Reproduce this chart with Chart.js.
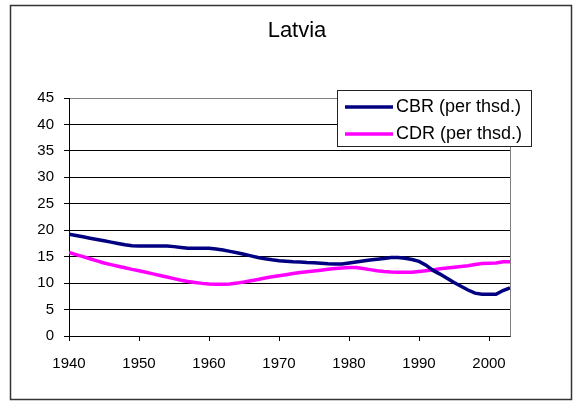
<!DOCTYPE html>
<html>
<head>
<meta charset="utf-8">
<script src="https://cdn.jsdelivr.net/npm/chart.js@4/dist/chart.umd.min.js"></script>
<style>
  html, body { margin: 0; padding: 0; background: #fff; }
  #c { display: block; }
</style>
</head>
<body>
<canvas id="c" width="582" height="401"></canvas>
<script>
const years = [];
for (let y = 1940; y <= 2003; y++) years.push(y);

const cbr = [
  19.25, 19.0, 18.75, 18.5, 18.25, 18.0, 17.75, 17.5, 17.25, 17.05,
  17.0, 17.0, 17.0, 17.0, 17.0, 16.9, 16.75, 16.6, 16.6, 16.6,
  16.6, 16.45, 16.25, 16.0, 15.75, 15.45, 15.15, 14.85, 14.6, 14.4,
  14.25, 14.15, 14.05, 14.0, 13.9, 13.85, 13.75, 13.65, 13.6, 13.6,
  13.8, 14.0, 14.2, 14.35, 14.5, 14.65, 14.85, 14.85, 14.7, 14.45,
  14.1, 13.4, 12.4, 11.7, 10.9, 10.1, 9.4, 8.7, 8.1, 7.9,
  7.9, 7.9, 8.6, 9.1
];
const cdr = [
  15.8, 15.4, 15.0, 14.6, 14.2, 13.8, 13.5, 13.2, 12.9, 12.6,
  12.35, 12.05, 11.75, 11.45, 11.15, 10.85, 10.55, 10.3, 10.1, 9.95,
  9.85, 9.8, 9.8, 9.85, 10.0, 10.2, 10.45, 10.7, 10.95, 11.2,
  11.4, 11.6, 11.8, 12.0, 12.15, 12.3, 12.45, 12.6, 12.75, 12.85,
  12.95, 12.95, 12.75, 12.55, 12.35, 12.2, 12.1, 12.05, 12.05, 12.05,
  12.2, 12.35, 12.5, 12.7, 12.85, 13.0, 13.15, 13.3, 13.5, 13.7,
  13.75, 13.8, 14.05, 14.05
];
const xTicks = [1940, 1950, 1960, 1970, 1980, 1990, 2000];
const yTicks = [0, 5, 10, 15, 20, 25, 30, 35, 40, 45];
const seriesLabels = ['CBR (per thsd.)', 'CDR (per thsd.)'];
const seriesColors = ['#000080', '#FF00FF'];
const titleText = 'Latvia';

const FONT = "'Liberation Sans', Arial, sans-serif";

const decor = {
  id: 'decor',
  beforeDatasetsDraw(chart) {
    const ctx = chart.ctx, a = chart.chartArea;
    ctx.save();
    ctx.strokeStyle = '#808080';
    ctx.lineWidth = 1;
    ctx.beginPath();
    const rx = Math.round(a.right) + 0.5;
    ctx.moveTo(rx, Math.round(a.top) + 0.5);
    ctx.lineTo(rx, Math.round(a.bottom) + 0.5);
    ctx.stroke();
    ctx.restore();
  },
  afterDraw(chart) {
    const ctx = chart.ctx;
    ctx.save();
    // outer border
    ctx.strokeStyle = '#333';
    ctx.lineWidth = 1.5;
    ctx.strokeRect(10.5, 5.5, 561, 394);
    // title
    ctx.fillStyle = '#000';
    ctx.font = '22px ' + FONT;
    ctx.textAlign = 'center';
    ctx.textBaseline = 'alphabetic';
    ctx.fillText(titleText, 297, 37);
    // legend
    ctx.fillStyle = '#fff';
    ctx.fillRect(337.5, 90.5, 194, 56);
    ctx.strokeStyle = '#222';
    ctx.lineWidth = 1;
    ctx.strokeRect(337.5, 90.5, 194, 56);
    const rows = [107, 134];
    chart.data.datasets.forEach((ds, i) => {
      ctx.strokeStyle = ds.borderColor;
      ctx.lineWidth = 3.5;
      ctx.beginPath();
      ctx.moveTo(345, rows[i]);
      ctx.lineTo(393, rows[i]);
      ctx.stroke();
      ctx.fillStyle = '#000';
      ctx.font = '18px ' + FONT;
      ctx.textAlign = 'left';
      ctx.textBaseline = 'middle';
      ctx.fillText(ds.label, 396, rows[i] + 0.5);
    });
    ctx.restore();
  }
};

new Chart(document.getElementById('c'), {
  type: 'line',
  data: {
    datasets: [
      { label: seriesLabels[0], data: years.map((y, i) => ({ x: y, y: cbr[i] })),
        borderColor: seriesColors[0], borderWidth: 3.5, pointRadius: 0, tension: 0, fill: false },
      { label: seriesLabels[1], data: years.map((y, i) => ({ x: y, y: cdr[i] })),
        borderColor: seriesColors[1], borderWidth: 3.5, pointRadius: 0, tension: 0, fill: false }
    ]
  },
  options: {
    responsive: false,
    animation: false,
    devicePixelRatio: 1,
    layout: { padding: { left: 0, right: 72, top: 98, bottom: 0 } },
    plugins: { legend: { display: false }, title: { display: false }, tooltip: { enabled: false } },
    scales: {
      x: {
        type: 'linear', min: 1940, max: 2003,
        afterBuildTicks: s => { s.ticks = xTicks.map(v => ({ value: v })); },
        afterFit: s => { s.height = 65; },
        ticks: { callback: v => String(v), font: { family: FONT, size: 15 }, color: '#000', padding: 14, maxRotation: 0 },
        grid: { drawOnChartArea: false, drawTicks: true, tickLength: 5, color: '#000' },
        border: { color: '#000', width: 1 }
      },
      y: {
        min: 0, max: 45,
        afterBuildTicks: s => { s.ticks = yTicks.map(v => ({ value: v })); },
        afterFit: s => { s.width = 69; },
        ticks: { callback: v => String(v), font: { family: FONT, size: 15 }, color: '#000', padding: 10 },
        grid: { color: c => (c.tick && c.tick.value === 45) ? '#808080' : '#000', tickColor: '#000', tickLength: 5, lineWidth: 1 },
        border: { color: '#000', width: 1 }
      }
    }
  },
  plugins: [decor]
});
</script>
</body>
</html>
